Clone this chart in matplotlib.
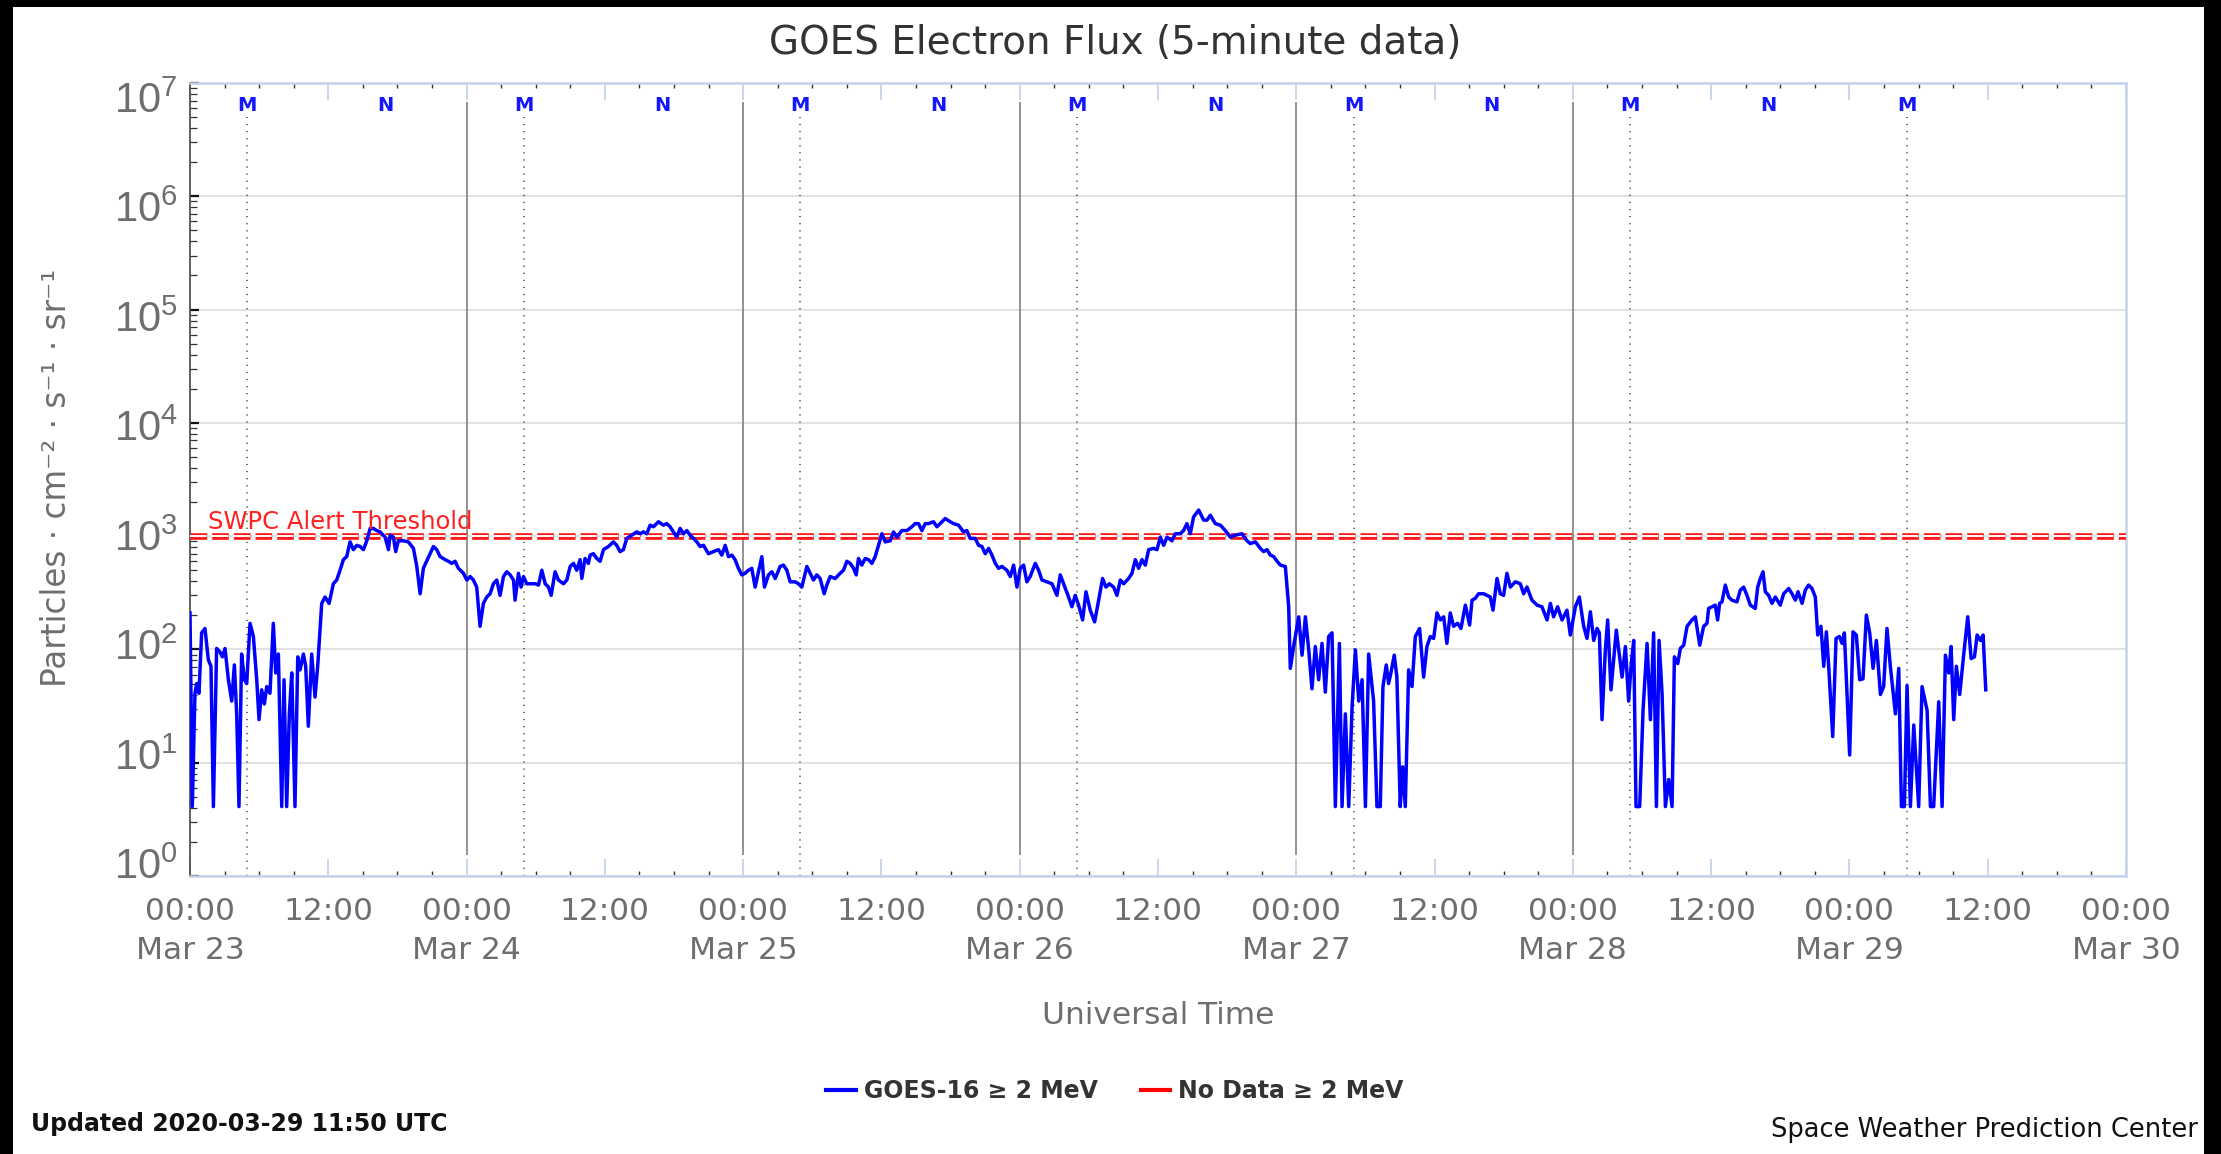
import matplotlib
matplotlib.use('Agg')
import math
import matplotlib.pyplot as plt
import matplotlib.dates as mdates
from matplotlib.transforms import ScaledTranslation
from matplotlib.lines import Line2D
from matplotlib.patches import Rectangle
from matplotlib.ticker import FixedLocator, LogLocator, NullFormatter, FuncFormatter
import pandas as pd

plt.rcParams['font.family'] = ['DejaVu Sans']
plt.rcParams['lines.scale_dashes'] = False

# ---------------- data ----------------
START = pd.Timestamp('2020-03-23 00:00')
END = pd.Timestamp('2020-03-30 00:00')

# hours since 2020-03-23 00:00 UTC, GOES-16 >= 2 MeV electron flux
hours_d1 = [0.0, 0.2, 0.43, 0.58, 0.78, 1.01, 1.30, 1.59, 1.82, 2.03, 2.31, 2.60, 2.81, 3.04, 3.33, 3.62,
            3.85, 4.05, 4.25, 4.48, 4.72, 4.92, 5.21, 5.50, 5.79, 5.99, 6.22, 6.45, 6.66, 6.94, 7.23, 7.44,
            7.67, 7.96, 8.16, 8.39, 8.62, 8.83, 9.11, 9.35, 9.55, 9.84, 10.04, 10.27, 10.56, 10.85, 11.08,
            11.43, 11.72, 12.07, 12.44, 12.73, 13.02, 13.31, 13.60, 13.89, 14.18, 14.47, 14.76, 15.05, 15.34,
            15.63, 15.91, 16.20, 16.49, 16.93, 17.22, 17.36, 17.65, 17.85, 18.08, 18.52, 18.95, 19.39, 19.68,
            19.97, 20.25, 20.83, 21.12, 21.41, 21.70, 22.14, 22.42, 22.71, 23.00, 23.29, 23.73]
flux_d1 = [210, 4.1, 41, 50, 41, 140, 153, 81, 71, 4.1, 102, 95, 86, 102, 54, 35,
           73, 27, 4.1, 91, 54, 50, 170, 130, 54, 24, 44, 33, 47, 41, 170, 62,
           91, 4.1, 54, 4.1, 27, 62, 4.1, 86, 66, 91, 71, 21, 91, 38, 71,
           255, 290, 255, 380, 410, 500, 620, 660, 890, 760, 830, 810, 760, 910,
           1170, 1170, 1120, 1090, 980, 760, 1020, 980, 730, 910, 910, 890, 780, 540,
           310, 520, 700, 810, 760, 660, 620, 600, 575, 600, 520, 470]

hours_d2 = [24.02, 24.31, 24.59, 24.88, 25.17, 25.46, 25.75, 26.04, 26.33, 26.62, 26.91, 27.20, 27.49,
            27.78, 28.07, 28.21, 28.50, 28.73, 28.94, 29.22, 29.51, 29.95, 30.24, 30.53, 30.82, 31.11,
            31.34, 31.68, 31.97, 32.41, 32.70, 32.99, 33.28, 33.56, 33.85, 34.0, 34.28, 34.57, 34.72,
            35.01, 35.30, 35.59, 35.88, 36.31, 36.74, 37.03, 37.32, 37.61, 37.90, 38.33, 38.77, 39.06,
            39.35, 39.64, 39.93, 40.22, 40.65, 41.08, 41.37, 41.66, 41.95, 42.24, 42.53, 42.82, 43.11,
            43.40, 43.69, 43.98, 44.27, 44.56, 44.99, 45.42, 45.86, 46.15, 46.44, 46.73, 47.02, 47.30,
            47.59, 47.88]
flux_d2 = [410, 440, 410, 355, 160, 255, 290, 310, 380, 410, 300, 440, 485,
           455, 410, 272, 470, 355, 440, 380, 380, 380, 370, 500, 380, 355,
           300, 485, 410, 380, 410, 540, 575, 500, 620, 423, 635, 575, 680,
           700, 635, 600, 760, 810, 890, 830, 730, 760, 955, 1020, 1090, 1050,
           1090, 1050, 1250, 1210, 1340, 1250, 1290, 1210, 1090, 980, 1170, 1050, 1120,
           1020, 955, 890, 810, 830, 700, 730, 760, 680, 830, 660, 680, 620,
           520, 455]

hours_d3 = [48.17, 48.46, 48.75, 49.04, 49.33, 49.62, 49.85, 50.20, 50.49, 50.78, 51.21, 51.50, 51.79,
            52.08, 52.51, 52.80, 53.09, 53.53, 53.82, 54.10, 54.39, 54.68, 55.03, 55.26, 55.55, 55.99,
            56.42, 56.71, 57.00, 57.29, 57.58, 57.81, 58.01, 58.30, 58.59, 58.88, 59.17, 59.46, 59.75,
            60.04, 60.33, 60.76, 61.05, 61.34, 61.77, 62.21, 62.64, 62.93, 63.22, 63.51, 63.80, 64.09,
            64.52, 64.81, 65.10, 65.53, 65.97, 66.26, 66.69, 67.12, 67.41, 67.70, 68.14, 68.43, 68.72,
            69.01, 69.30, 69.59, 69.88, 70.17, 70.45, 70.89, 71.18, 71.47, 71.76]
flux_d3 = [470, 500, 520, 355, 485, 660, 355, 455, 485, 423, 540, 555, 500,
           395, 395, 380, 355, 540, 470, 410, 455, 423, 310, 370, 440, 423,
           470, 500, 600, 575, 520, 455, 635, 555, 635, 620, 575, 660, 830,
           1050, 890, 910, 1090, 980, 1120, 1120, 1210, 1290, 1290, 1120, 1290, 1290,
           1340, 1210, 1290, 1430, 1340, 1290, 1250, 1090, 1120, 955, 955, 830, 810,
           700, 780, 680, 575, 520, 540, 500, 440, 555, 355]

hours_d4 = [72.05, 72.34, 72.62, 72.91, 73.35, 73.64, 73.93, 74.36, 74.80, 75.23, 75.52, 75.81, 76.24,
            76.53, 76.82, 77.11, 77.46, 77.75, 78.12, 78.50, 78.85, 79.19, 79.48, 79.77, 80.15, 80.44,
            80.73, 81.02, 81.45, 81.74, 82.03, 82.32, 82.61, 82.90, 83.19, 83.62, 83.91, 84.20, 84.49,
            84.78, 85.21, 85.50, 85.93, 86.22, 86.51, 86.80, 87.09, 87.53, 87.96, 88.25, 88.54, 88.97,
            89.41, 89.84, 90.28, 90.71, 91.29, 91.72, 92.01, 92.45, 92.88, 93.17, 93.46, 93.75, 94.04,
            94.33, 94.62, 95.05, 95.34, 95.48, 95.77]
flux_d4 = [520, 555, 395, 440, 575, 500, 410, 395, 380, 300, 455, 380, 290,
           238, 300, 246, 182, 323, 222, 175, 272, 423, 355, 380, 355, 300,
           410, 380, 423, 470, 620, 520, 620, 555, 760, 780, 760, 980, 830,
           980, 910, 1050, 1050, 1120, 1290, 1050, 1480, 1700, 1385, 1385, 1530, 1290,
           1250, 1120, 980, 1020, 1050, 910, 860, 890, 780, 730, 760, 680, 660,
           600, 555, 540, 238, 68, 106]

hours_d5 = [96.21, 96.50, 96.79, 97.08, 97.36, 97.65, 97.94, 98.23, 98.52, 98.81, 99.10, 99.39, 99.74,
            99.97, 100.26, 100.55, 100.84, 101.13, 101.42, 101.71, 102.00, 102.28, 102.71, 103.0, 103.29,
            103.52, 103.81, 104.01, 104.21, 104.50, 104.73, 105.02, 105.23, 105.46, 105.75, 106.04,
            106.33, 106.70, 107.05, 107.34, 107.63, 107.92, 108.21, 108.50, 108.79, 109.07, 109.36,
            109.65, 110.0, 110.29, 110.67, 111.04, 111.25, 111.53, 111.82, 112.26, 112.55, 112.84,
            113.07, 113.42, 113.70, 113.99, 114.28, 114.57, 115.01, 115.44, 115.73, 116.02, 116.45,
            116.89, 117.32, 117.76, 118.05, 118.33, 118.68, 119.06, 119.49, 119.78]
flux_d5 = [194, 89, 194, 99, 45, 106, 54, 113, 42, 130, 140, 4.1, 113,
           4.1, 27, 4.1, 31, 99, 35, 54, 4.1, 91, 35, 4.1, 4.1,
           47, 73, 50, 62, 89, 57, 4.1, 9.2, 4.1, 66, 47,
           130, 153, 57, 106, 130, 125, 210, 182, 194, 113, 210,
           160, 170, 153, 246, 164, 272, 282, 310, 310, 300, 290,
           222, 423, 310, 300, 470, 355, 395, 380, 310, 355, 272,
           246, 238, 182, 255, 194, 238, 182, 222, 134]

hours_d6 = [120.22, 120.56, 120.94, 121.23, 121.52, 121.81, 122.10, 122.30, 122.53, 122.82, 123.02,
            123.31, 123.77, 124.27, 124.56, 124.84, 125.05, 125.28, 125.48, 125.80, 126.09, 126.44,
            126.73, 127.01, 127.25, 127.48, 127.74, 128.03, 128.32, 128.61, 128.81, 129.10, 129.33,
            129.62, 129.91, 130.34, 130.63, 131.01, 131.35, 131.64, 131.78, 132.07, 132.36, 132.56,
            132.74, 132.94, 133.23, 133.52, 133.81, 134.24, 134.53, 134.82, 135.11, 135.40, 135.83,
            136.04, 136.27, 136.50, 136.70, 136.99, 137.28, 137.57, 138.0, 138.29, 138.73, 139.02,
            139.31, 139.54, 139.89, 140.17, 140.46, 140.75, 141.04, 141.25, 141.53, 141.77, 142.0,
            142.2, 142.55, 142.84, 143.13, 143.36, 143.56]
flux_d6 = [238, 290, 160, 125, 215, 120, 153, 140, 24, 99, 182,
           44, 148, 57, 106, 35, 71, 120, 4.1, 4.1, 29, 113,
           24, 140, 4.1, 120, 41, 4.1, 7.1, 4.1, 86, 75, 102,
           109, 160, 182, 194, 109, 160, 170, 230, 238, 246, 182,
           255, 263, 370, 290, 272, 263, 334, 355, 300, 246, 230,
           355, 423, 485, 323, 300, 255, 290, 246, 310, 345, 310,
           272, 323, 255, 334, 370, 345, 290, 134, 160, 71, 143,
           71, 17, 125, 130, 113, 140]

hours_d7 = [144.02, 144.31, 144.60, 144.89, 145.18, 145.47, 145.76, 146.05, 146.34, 146.69, 146.97,
            147.26, 147.55, 147.99, 148.28, 148.51, 148.77, 149.0, 149.29, 149.58, 150.01, 150.30,
            150.74, 151.03, 151.31, 151.75, 152.04, 152.33, 152.62, 152.82, 153.05, 153.28, 153.57,
            153.92, 154.27, 154.56, 154.85, 155.08, 155.37, 155.60, 155.83]
flux_d7 = [11.7, 143, 134, 54, 55, 201, 140, 68, 120, 40, 47,
           153, 71, 27, 68, 4.1, 4.1, 48, 4.1, 21.5, 4.1, 47,
           29, 4.1, 4.1, 34.5, 4.1, 89, 62, 106, 24, 71, 40,
           91, 194, 83, 86, 134, 120, 134, 44]

hours = hours_d1 + hours_d2 + hours_d3 + hours_d4 + hours_d5 + hours_d6 + hours_d7
flux = flux_d1 + flux_d2 + flux_d3 + flux_d4 + flux_d5 + flux_d6 + flux_d7

THRESHOLD = 1000
decades = [0, 1, 2, 3, 4, 5, 6, 7]
midnight_days = ['2020-03-24', '2020-03-25', '2020-03-26', '2020-03-27', '2020-03-28']
m_days = ['2020-03-23', '2020-03-24', '2020-03-25', '2020-03-26', '2020-03-27', '2020-03-28', '2020-03-29']
n_days = ['2020-03-23', '2020-03-24', '2020-03-25', '2020-03-26', '2020-03-27', '2020-03-28']
M_TIME = '04:58'
N_TIME = '16:58'

# ---------------- figure ----------------
W, H = 2221, 1154
fig = plt.figure(figsize=(W / 100, H / 100), dpi=100, facecolor='black')
fig.add_artist(Rectangle((13 / W, 0), (2204 - 13) / W, 1 - 7 / H, transform=fig.transFigure,
                         facecolor='white', edgecolor='none', zorder=-10))

ax = fig.add_axes([190 / W, 1 - 876 / H, 1936 / W, 793 / H])
ax.set_yscale('log')
ax.set_ylim(1, 1e7)
ax.set_xlim(START, END)

times = START + pd.to_timedelta(hours, unit='h')
ax.plot(times, flux, color='#0000ff', lw=2.5, zorder=5, solid_joinstyle='round',
        label='GOES-16 \u2265 2 MeV')

# threshold (double dashed look)
ax.axhline(THRESHOLD, color='#ff1a1a', lw=4.8, dashes=(12, 3.6), zorder=3)
ax.axhline(THRESHOLD, color='white', lw=1.4, dashes=(12, 3.6), zorder=3.1)
ax.annotate('SWPC Alert Threshold', xy=(0.0093, THRESHOLD), xycoords=ax.get_yaxis_transform(),
            xytext=(0, 5), textcoords='offset points', ha='left', va='baseline',
            color='#ff2020', fontsize=17.5, zorder=6)

# day lines
xt = ax.get_xaxis_transform()
ax.vlines(pd.to_datetime(midnight_days), 0.026, 0.976, transform=xt, colors='#8a8a8a', lw=1.3, zorder=2)
m_times = pd.to_datetime([d + ' ' + M_TIME for d in m_days])
n_times = pd.to_datetime([d + ' ' + N_TIME for d in n_days])
ax.vlines(m_times, 0.0, 0.957, transform=xt, colors='#555555', lw=1.2,
          linestyles=[(0, (0.9, 4.2))], zorder=2)
for t in m_times:
    ax.text(t, 0.972, 'M', transform=xt, ha='center', va='center', color='#1515ff',
            fontsize=14, fontweight='bold', zorder=6)
for t in n_times:
    ax.text(t, 0.972, 'N', transform=xt, ha='center', va='center', color='#1515ff',
            fontsize=14, fontweight='bold', zorder=6)

# grid
ax.yaxis.grid(True, which='major', color='#e2e2e2', lw=1.4, zorder=0)
ax.set_axisbelow(True)

# spines
for s in ['top', 'right', 'bottom']:
    ax.spines[s].set_color('#c5d3ea')
    ax.spines[s].set_linewidth(1.8)
ax.spines['left'].set_color('#444444')
ax.spines['left'].set_linewidth(1.2)

# x ticks
ax.xaxis.set_major_locator(mdates.HourLocator(byhour=[0, 12]))
ax.xaxis.set_minor_locator(mdates.HourLocator(byhour=range(0, 24, 3)))


def xfmt(x, pos):
    d = mdates.num2date(x)
    if d.hour == 0:
        return d.strftime('%H:%M') + '\n' + d.strftime('%b %d').replace(' 0', ' ')
    return d.strftime('%H:%M')


ax.xaxis.set_major_formatter(FuncFormatter(xfmt))
ax.tick_params(axis='x', which='major', direction='in', length=12.5, width=1.3, color='#c5d3ea',
               top=True, bottom=True, labelsize=22.5, labelcolor='#6e6e6e', pad=15)
ax.tick_params(axis='x', which='minor', direction='in', length=3.6, width=1.0, color='#333333',
               top=True, bottom=True)
for lbl in ax.get_xticklabels():
    lbl.set_linespacing(1.45)

# y ticks
ax.yaxis.set_major_locator(FixedLocator([10.0 ** e for e in decades]))
ax.yaxis.set_minor_locator(LogLocator(base=10, subs=range(2, 10)))
ax.yaxis.set_minor_formatter(NullFormatter())
ax.yaxis.set_major_formatter(FuncFormatter(lambda v, pos: r'$\mathregular{10^{%d}}$' % round(math.log10(v))))
ax.tick_params(axis='y', which='major', direction='in', length=6.5, width=1.6, color='#111111',
               left=True, right=False, labelsize=30, labelcolor='#6e6e6e', pad=9)
ax.tick_params(axis='y', which='minor', direction='in', length=5, width=0.9, color='#333333',
               left=True, right=False)
yticks = ax.yaxis.get_major_ticks()
for tick, e in zip(yticks, decades):
    tick.label1.set_fontfamily(['Liberation Sans Narrow', 'Liberation Sans', 'DejaVu Sans'])
    off = (e - 3.3) * 3.8
    tick.label1.set_transform(tick.label1.get_transform() +
                              ScaledTranslation(0, -off / 100, fig.dpi_scale_trans))

# axis labels
ax.set_ylabel('Particles \u00b7 cm\u207b\u00b2 \u00b7 s\u207b\u00b9 \u00b7 sr\u207b\u00b9',
              fontsize=23.5, color='#6e6e6e')
ax.yaxis.label.set_va('center')
ax.yaxis.set_label_coords((57 - 190) / 1936, 0.502)
ax.set_xlabel('Universal Time', fontsize=22.5, color='#6e6e6e')
ax.xaxis.label.set_va('center')
ax.xaxis.set_label_coords(0.5, (876 - 1015) / 793)

# title and footer
fig.text(1115 / W, 1 - 43 / H, 'GOES Electron Flux (5-minute data)', ha='center', va='center',
         fontsize=28, color='#333333')
fig.text(31 / W, 1 - 1124 / H, 'Updated 2020-03-29 11:50 UTC', ha='left', va='center',
         fontsize=17, fontweight='bold', color='#111111')
fig.text(2198 / W, 1 - 1130 / H, 'Space Weather Prediction Center', ha='right', va='center',
         fontsize=18.5, color='#111111')

# legend
handles = [ax.get_lines()[0], Line2D([], [], color='#ff0000', lw=3)]
labels = ['GOES-16 \u2265 2 MeV', 'No Data \u2265 2 MeV']
leg = fig.legend(handles, labels, loc='center', bbox_to_anchor=(1115 / W, 1 - 1091 / H), ncol=2,
                 frameon=False, handlelength=1.25, handletextpad=0.35, columnspacing=1.8,
                 prop={'weight': 'bold', 'size': 17})
for t in leg.get_texts():
    t.set_color('#333333')
for lh in leg.get_lines():
    lh.set_linewidth(3)

fig.savefig('out.png', dpi=100, facecolor=fig.get_facecolor())
